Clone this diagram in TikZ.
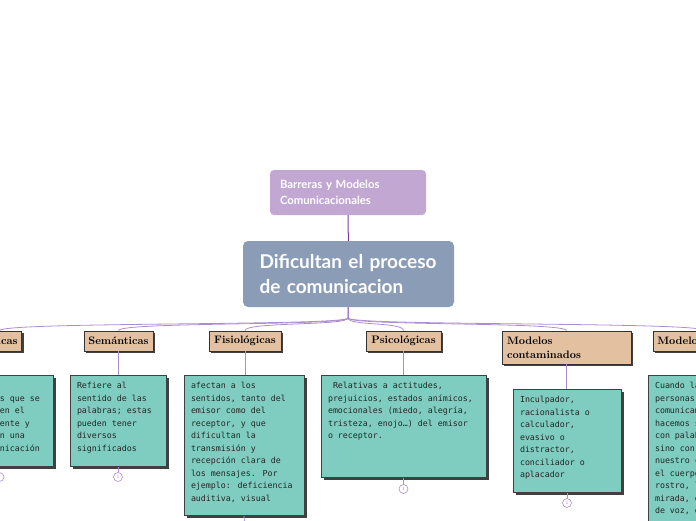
\documentclass[tikz,border=0pt]{standalone}
\usepackage{fontspec}
\newfontfamily\latofont{Lato}
\newfontfamily\monofont{DejaVu Sans Mono}
\usepackage{xcolor}
\usepackage{tikz}
\usetikzlibrary{shadows}

\definecolor{topc}{HTML}{C3A7D3}
\definecolor{mainc}{HTML}{8B9DB6}
\definecolor{tanc}{HTML}{E3C0A0}
\definecolor{tealc}{HTML}{7ECDC0}
\definecolor{linkc}{HTML}{AC8DD0}
\definecolor{darkp}{HTML}{7C3C9E}

% text block of a note: width, height, lines
\newcommand{\notetext}[3]{\parbox[t][#2][t]{#1}{\raggedright #3}}

\begin{document}
\begin{tikzpicture}[
    x=1pt, y=-1pt,
    topic/.style={rectangle, rounded corners=4pt, fill=topc, text=white, font=\latofont\bfseries\fontsize{11.3}{16}\selectfont, align=left, text width=136pt, minimum width=156pt, minimum height=45pt, inner sep=0pt},
    central/.style={rectangle, rounded corners=5pt, fill=mainc, text=white, font=\latofont\bfseries\fontsize{19}{25}\selectfont, align=left, text width=178pt, minimum width=211pt, minimum height=66pt, inner sep=0pt},
    branch/.style={rectangle, draw=black!80, line width=0.7pt, fill=tanc, font=\bfseries\fontsize{10.8}{14}\selectfont, inner xsep=4pt, inner ysep=0pt, minimum height=20pt, drop shadow={shadow xshift=2pt, shadow yshift=-2pt, fill=black!75, opacity=1}},
    note/.style={rectangle, draw=black!75, line width=0.6pt, fill=tealc, text=black!85, font=\monofont\fontsize{8.3}{12.5}\selectfont, inner sep=7pt, anchor=north, drop shadow={shadow xshift=2.5pt, shadow yshift=-2.5pt, fill=black!75, opacity=1}},
    link/.style={draw=linkc, line width=0.8pt},
    stem/.style={draw=darkp, line width=1pt},
    counter/.style={circle, draw=linkc, fill=white, line width=0.6pt, minimum size=9pt, inner sep=0pt, font=\fontsize{5}{5}\selectfont, text=linkc}
]
    \useasboundingbox (0,0) rectangle (696,520);
    \clip (0,0) rectangle (696,520);

    % Central topic
    \node[topic] (barreras) at (348,192.5) {Barreras y Modelos\\Comunicacionales};
    \node[central] (dificultan) at (348.5,274) {Dificultan el proceso\\de comunicacion};
    \coordinate (split) at (348,318);

    % Branches
    \node[branch, anchor=east] (fisicas) at (22,341) {Físicas};
    \node[branch, minimum width=69pt] (semanticas) at (118.5,341) {Semánticas};
    \node[branch, minimum width=72pt] (fisiologicas) at (245,341) {Fisiológicas};
    \node[branch, minimum width=75pt] (psicologicas) at (403.5,341) {Psicológicas};
    \node[branch, align=left, text width=119pt, minimum width=129pt, minimum height=33pt, inner xsep=5pt] (contaminados) at (566.5,347.5) {Modelos\\contaminados};
    \node[branch, anchor=west] (nivelador) at (653,341) {Modelo nivelador};

    % Notes
    \node[note] (fisicas-txt) at (-2,375) {\notetext{96pt}{77pt}{Son las\\condiciones que se\\presentan en el\\medio ambiente y\\que impiden una\\buena comunicación}};
    \node[note] (semanticas-txt) at (118,375) {\notetext{82pt}{77pt}{Refiere al\\sentido de las\\palabras; estas\\pueden tener\\diversos\\significados}};
    \node[note] (fisiologicas-txt) at (244,375) {\notetext{106pt}{126pt}{afectan a los\\sentidos, tanto del\\emisor como del\\receptor, y que\\dificultan la\\transmisión y\\recepción clara de\\los mensajes. Por\\ejemplo: deficiencia\\auditiva, visual}};
    \node[note] (psicologicas-txt) at (403.5,375) {\notetext{151pt}{88pt}{~Relativas a actitudes,\\prejuicios, estados anímicos,\\emocionales (miedo, alegría,\\tristeza, enojo…) del emisor\\o receptor.}};
    \node[note] (contaminados-txt) at (567,389) {\notetext{94pt}{89pt}{Inculpador,\\racionalista o\\calculador,\\evasivo o\\distractor,\\conciliador o\\aplacador}};
    \node[note] (nivelador-txt) at (703,375) {\notetext{96pt}{200pt}{Cuando las\\personas nos\\comunicamos no lo\\hacemos solo\\con palabras\\sino con\\nuestro cuerpo,\\el cuerpo, el\\rostro, la\\mirada, el tono\\de voz, el gesto}};

    % Counters
    \node[counter] (fisicas-num) at (-0.5,477) {1};
    \node[counter] (semanticas-num) at (118,477) {1};
    \coordinate (fisiologicas-num) at (245,530);
    \node[counter] (psicologicas-num) at (403.5,489) {1};
    \node[counter] (contaminados-num) at (567,503) {1};

    % Connectors
    \draw[stem] (barreras) -- (dificultan);
    \draw[stem] (dificultan) -- (split);
    \foreach \b in {fisicas, semanticas, fisiologicas, psicologicas, contaminados, nivelador} {
        \draw[link] (split) .. controls +(0,8) and +(0,-9) .. (\b.north);
        \draw[link] (\b.south) -- (\b.south |- \b-txt.north);
    }
    \foreach \b in {fisicas, semanticas, fisiologicas, psicologicas, contaminados}
        \draw[link] (\b-txt.south) -- (\b-num);
\end{tikzpicture}
\end{document}
